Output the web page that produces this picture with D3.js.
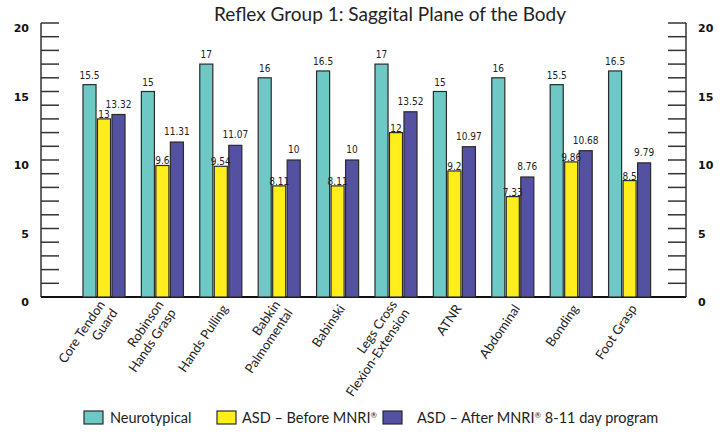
<!DOCTYPE html>
<html lang="en">
<head>
  <meta charset="UTF-8" />
  <title>Reflex Group 1</title>
  <style>
    html, body { margin: 0; padding: 0; background: #fff; overflow: hidden; }
    svg { display: block; }
    .title { font: 19px Lato, "Open Sans", sans-serif; fill: #222; }
    .cat { font: 13px Lato, "Open Sans", sans-serif; fill: #222; }
    .val { font: 10px "Liberation Sans Narrow", "DejaVu Sans Condensed", sans-serif; fill: #222; }
    .ytick { font: bold 11px "DejaVu Sans", sans-serif; fill: #111; }
    .legend { font: 14.5px Lato, "Open Sans", sans-serif; fill: #222; }
  </style>
</head>
<body>
  <svg width="726" height="435"></svg>

  <script src="https://d3js.org/d3.v7.min.js"></script>
  <script>
    // data
    const categories = [
      ["Core Tendon", "Guard"],
      ["Robinson", "Hands Grasp"],
      ["Hands Pulling"],
      ["Babkin", "Palmomental"],
      ["Babinski"],
      ["Legs Cross", "Flexion-Extension"],
      ["ATNR"],
      ["Abdominal"],
      ["Bonding"],
      ["Foot Grasp"]
    ];
    const neurotypical = [15.5, 15, 17, 16, 16.5, 17, 15, 16, 15.5, 16.5];
    const asdBefore    = [13, 9.6, 9.54, 8.11, 8.11, 12, 9.2, 7.33, 9.86, 8.5];
    const asdAfter     = [13.32, 11.31, 11.07, 10, 10, 13.52, 10.97, 8.76, 10.68, 9.79];
    const seriesNames = ["Neurotypical", "ASD \u2013 Before MNRI\u00ae", "ASD \u2013 After MNRI\u00ae 8-11 day program"];
    const yTicks = [0, 5, 10, 15, 20];

    const colors = ["#6ec9c6", "#ffed1c", "#5450a2"];
    const series = [neurotypical, asdBefore, asdAfter];
    const labelDy = [-6, -1, -7];

    const svg = d3.select("svg");
    const catKeys = categories.map(c => c.join(" "));

    const y = d3.scaleLinear().domain([0, 20]).range([297, 23]);
    const x0 = d3.scaleBand().domain(catKeys).range([74.8, 658.8])
      .paddingInner(0.28).paddingOuter(0.14);
    const x1 = d3.scaleBand().domain(d3.range(3)).range([0, x0.bandwidth()]).paddingInner(0.1);

    const axL = 41, axR = 686;

    // title
    svg.append("text").attr("class", "title")
      .attr("x", 390).attr("y", 21).attr("text-anchor", "middle")
      .text("Reflex Group 1: Saggital Plane of the Body");

    // axes: ticks every 1 unit on both sides
    const minor = d3.range(0, 21);
    const ag = svg.append("g").attr("stroke", "#333").attr("stroke-width", 1.5);
    ag.selectAll(".tl").data(minor).join("line")
      .attr("x1", axL).attr("x2", axL + 18)
      .attr("y1", d => y(d)).attr("y2", d => y(d));
    ag.selectAll(".tr").data(minor).join("line")
      .attr("x1", axR - 18).attr("x2", axR)
      .attr("y1", d => y(d)).attr("y2", d => y(d));
    ag.append("line").attr("x1", axL).attr("x2", axL).attr("y1", y(20)).attr("y2", y(0));
    ag.append("line").attr("x1", axR).attr("x2", axR).attr("y1", y(20)).attr("y2", y(0));
    ag.append("line").attr("x1", axL).attr("x2", axR).attr("y1", y(0)).attr("y2", y(0))
      .attr("stroke", "#111").attr("stroke-width", 2);

    svg.selectAll(".yl").data(yTicks).join("text").attr("class", "ytick")
      .attr("x", 29).attr("y", d => y(d) + 9).attr("text-anchor", "end").text(d => d);
    svg.selectAll(".yr").data(yTicks).join("text").attr("class", "ytick")
      .attr("x", 698).attr("y", d => y(d) + 9).text(d => d);

    // bars
    const groups = svg.selectAll(".grp").data(catKeys).join("g")
      .attr("transform", d => `translate(${x0(d)},0)`);

    groups.selectAll("rect")
      .data((d, i) => series.map((s, k) => ({ k, v: s[i] })))
      .join("rect")
      .attr("x", d => x1(d.k))
      .attr("y", d => y(d.v))
      .attr("width", x1.bandwidth())
      .attr("height", d => y(0) - y(d.v))
      .attr("fill", d => colors[d.k])
      .attr("stroke", "#2a2a2a")
      .attr("stroke-width", 1.2);

    groups.selectAll(".val")
      .data((d, i) => series.map((s, k) => ({ k, v: s[i] })))
      .join("text").attr("class", "val")
      .attr("x", d => x1(d.k) + x1.bandwidth() / 2)
      .attr("y", d => y(d.v) + labelDy[d.k])
      .attr("text-anchor", "middle")
      .text(d => d.v);

    // category labels
    const cat = svg.selectAll(".cat").data(categories).join("text").attr("class", "cat")
      .attr("text-anchor", "end")
      .attr("transform", (d, i) => `translate(${x0(catKeys[i]) + x0.bandwidth() / 2 + 4},306) rotate(-56)`);
    cat.selectAll("tspan").data(d => d.map((t, j) => ({ t, off: j - (d.length - 1) / 2 })))
      .join("tspan")
      .attr("x", 0)
      .attr("y", d => d.off * 15)
      .attr("dy", "0.35em")
      .text(d => d.t);

    // legend, with a small raised ®
    const legX = [84, 217, 383];
    const legTextX = [26, 25, 34];
    const lg = svg.selectAll(".leg").data(seriesNames).join("g")
      .attr("transform", (d, i) => `translate(${legX[i]},411)`);
    lg.append("rect").attr("width", 19).attr("height", 13)
      .attr("fill", (d, i) => colors[i]).attr("stroke", "#2a2a2a").attr("stroke-width", 1.2);
    const lt = lg.append("text").attr("class", "legend")
      .attr("x", (d, i) => legTextX[i]).attr("y", 12);
    lt.each(function (d) {
      const t = d3.select(this);
      d.split("\u00ae").forEach((part, j) => {
        if (j > 0) {
          t.append("tspan").attr("font-size", 8).attr("dy", -5).text("\u00ae");
          t.append("tspan").attr("dy", 5).text(part);
        } else {
          t.append("tspan").text(part);
        }
      });
    });
  </script>
</body>
</html>
